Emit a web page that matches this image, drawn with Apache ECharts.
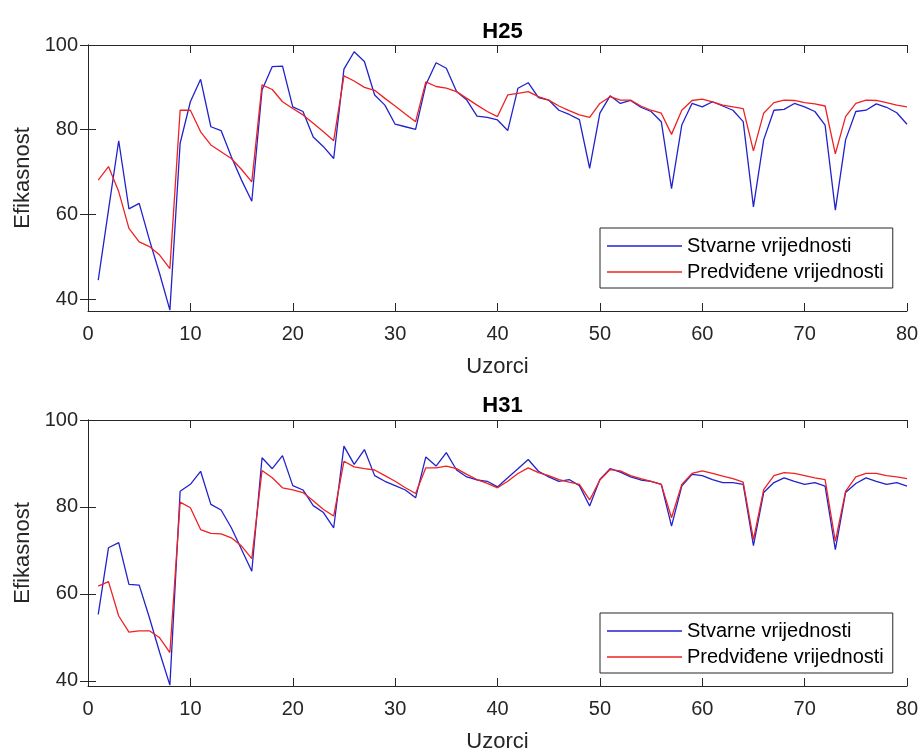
<!DOCTYPE html>
<html>
<head>
<meta charset="utf-8">
<script src="https://cdn.jsdelivr.net/npm/echarts@6/dist/echarts.min.js"></script>
<style>
html,body{margin:0;padding:0;background:#fff;}
#chart{width:922px;height:754px;}
</style>
</head>
<body>
<div id="chart"></div>
<script>
const samples = [1,2,3,4,5,6,7,8,9,10,11,12,13,14,15,16,17,18,19,20,21,22,23,24,25,26,27,28,29,30,31,32,33,34,35,36,37,38,39,40,41,42,43,44,45,46,47,48,49,50,51,52,53,54,55,56,57,58,59,60,61,62,63,64,65,66,67,68,69,70,71,72,73,74,75,76,77,78,79,80];

const h25Actual = [44.5,61,77.4,61.3,62.6,54,46,37.4,76.8,86.6,91.9,80.7,79.8,73.6,68.1,63.1,89.4,94.9,95.0,85.4,84.3,78.3,76.0,73.2,94.3,98.4,96.1,88.2,85.8,81.3,80.7,80.1,90.6,95.8,94.5,89.0,87.0,83.2,82.9,82.3,79.8,89.8,91.1,87.6,87.0,84.6,83.6,82.4,70.9,83.9,88.0,86.2,86.9,85.3,84.3,81.9,66.1,81.1,86.2,85.4,86.6,85.6,84.6,81.9,61.8,77.6,84.6,84.8,86.2,85.4,84.3,81.1,61.0,77.6,84.3,84.6,86.1,85.3,84.0,81.3];

const h25Predicted = [68.1,71.3,65.4,56.7,53.5,52.4,50.4,47.2,84.6,84.6,79.5,76.4,74.8,73.2,70.6,67.7,90.6,89.5,86.6,85.0,83.5,81.5,79.5,77.4,92.7,91.5,90.0,89.3,87.4,85.6,83.7,81.9,91.3,90.2,89.8,89.0,87.4,85.8,84.3,83.1,88.2,88.6,89.0,87.8,87.0,85.6,84.5,83.5,82.9,86.2,87.8,87.0,87.0,85.6,84.6,83.9,78.9,84.6,86.9,87.2,86.6,85.8,85.4,85.0,75.0,83.9,86.4,87.0,86.9,86.4,86.1,85.6,74.3,83.1,86.2,87.0,86.9,86.4,85.8,85.4];

const h31Actual = [55.3,70.6,71.8,62.2,62.0,54.5,46.5,39.0,83.6,85.2,88.2,80.6,79.3,75.2,70.2,65.2,91.3,88.8,91.8,84.9,83.9,80.3,78.7,75.2,94.0,89.8,93.2,87.2,85.9,84.9,83.9,82.1,91.5,89.4,92.5,88.5,86.9,86.2,85.9,84.6,86.7,88.8,90.9,88.2,86.9,85.9,86.3,84.9,80.2,86.3,88.8,88.0,86.9,86.2,85.9,85.2,75.6,84.8,87.5,87.2,86.3,85.6,85.6,85.2,71.1,83.3,85.6,86.7,85.9,85.2,85.6,84.8,70.2,83.3,85.4,86.7,85.9,85.2,85.6,84.8];

const h31Predicted = [61.8,62.8,54.9,51.2,51.5,51.5,49.9,46.5,81.1,79.8,74.8,73.9,73.8,72.9,71.0,68.1,88.4,86.7,84.4,83.9,83.3,81.4,79.4,77.9,90.5,89.2,88.8,88.5,87.2,85.9,84.4,83.1,89.0,89.0,89.4,88.8,87.5,86.3,85.4,84.4,85.9,87.7,89.0,87.9,87.2,86.3,85.7,85.2,81.6,86.2,88.6,88.3,87.2,86.5,85.9,85.2,77.5,85.2,87.7,88.3,87.7,87.1,86.5,85.7,72.5,84.0,87.2,87.9,87.7,87.2,86.7,86.3,72.1,83.6,86.9,87.7,87.7,87.2,86.9,86.5];

const xTicks = [0,10,20,30,40,50,60,70,80];
const yTicks = [40,60,80,100];
const seriesNames = ['Stvarne vrijednosti', 'Predviđene vrijednosti'];
const titles = ['H25', 'H31'];
const xName = 'Uzorci';
const yName = 'Efikasnost';

const FONT = '"Liberation Sans", Arial, sans-serif';
const AXC = '#262626';
const BLUE = '#2222cc';
const RED = '#ee2222';

function pairs(vals){ return samples.map((s,i)=>[s, vals[i]]); }

const grids = [
  {left:88, top:45, width:819, height:266},
  {left:88, top:420, width:819, height:267}
];
const yMins = [37.2, 38.8];

const xAxes = [], yAxes = [];
grids.forEach((g, gi) => {
  xAxes.push({
    type:'value', gridIndex:gi, min:0, max:80, interval:10, position:'bottom',
    name:xName, nameLocation:'middle', nameGap:45,
    nameTextStyle:{fontFamily:FONT, fontSize:22, color:AXC},
    axisLine:{show:true, lineStyle:{color:AXC, width:1}},
    axisTick:{show:true, inside:true, length:8, lineStyle:{color:AXC}, customValues:xTicks},
    axisLabel:{show:true, margin:13, fontFamily:FONT, fontSize:20, color:AXC, customValues:xTicks},
    splitLine:{show:false}
  });
  xAxes.push({
    type:'value', gridIndex:gi, min:0, max:80, interval:10, position:'top',
    axisLine:{show:true, lineStyle:{color:AXC, width:1}},
    axisTick:{show:true, inside:true, length:8, lineStyle:{color:AXC}, customValues:xTicks},
    axisLabel:{show:false}, splitLine:{show:false}
  });
  yAxes.push({
    type:'value', gridIndex:gi, min:yMins[gi], max:100, position:'left',
    name:yName, nameLocation:'middle', nameGap:52, nameRotate:90,
    nameTextStyle:{fontFamily:FONT, fontSize:22, color:AXC},
    axisLine:{show:true, lineStyle:{color:AXC, width:1}},
    axisTick:{show:true, inside:true, length:8, lineStyle:{color:AXC}, customValues:yTicks},
    axisLabel:{show:true, margin:10, fontFamily:FONT, fontSize:20, color:AXC, customValues:yTicks},
    splitLine:{show:false}
  });
  yAxes.push({
    type:'value', gridIndex:gi, min:yMins[gi], max:100, position:'right',
    axisLine:{show:true, lineStyle:{color:AXC, width:1}},
    axisTick:{show:true, inside:true, length:8, lineStyle:{color:AXC}, customValues:yTicks},
    axisLabel:{show:false}, splitLine:{show:false}
  });
});

function lineSeries(name, vals, gi, color){
  return {
    type:'line', name:name, xAxisIndex:gi*2, yAxisIndex:gi*2,
    data:pairs(vals), symbol:'none', showSymbol:false, smooth:false,
    lineStyle:{color:color, width:1.3}, itemStyle:{color:color},
    legendIcon:'rect',
    animation:false
  };
}

function legendAt(top){
  return {
    orient:'vertical', left:600, top:top,
    data:seriesNames,
    icon:'rect',
    itemWidth:75, itemHeight:1.5, itemGap:2,
    padding:[6,9,4,7],
    borderColor:AXC, borderWidth:1, backgroundColor:'#fff',
    textStyle:{fontFamily:FONT, fontSize:20, color:'#000', lineHeight:24},
    selectedMode:false
  };
}

const option = {
  backgroundColor:'#fff',
  animation:false,
  title: titles.map((t, i) => ({
    text:t, left:497.5, textAlign:'center', top: i===0 ? 16 : 390,
    textStyle:{fontFamily:FONT, fontSize:22, fontWeight:'bold', color:'#000'}
  })),
  grid: grids,
  xAxis: xAxes,
  yAxis: yAxes,
  legend: [legendAt(228), legendAt(613)],
  series: [
    lineSeries(seriesNames[0], h25Actual, 0, BLUE),
    lineSeries(seriesNames[1], h25Predicted, 0, RED),
    lineSeries(seriesNames[0], h31Actual, 1, BLUE),
    lineSeries(seriesNames[1], h31Predicted, 1, RED)
  ]
};

const chart = echarts.init(document.getElementById('chart'), null, {renderer:'canvas'});
chart.setOption(option);
</script>
</body>
</html>
